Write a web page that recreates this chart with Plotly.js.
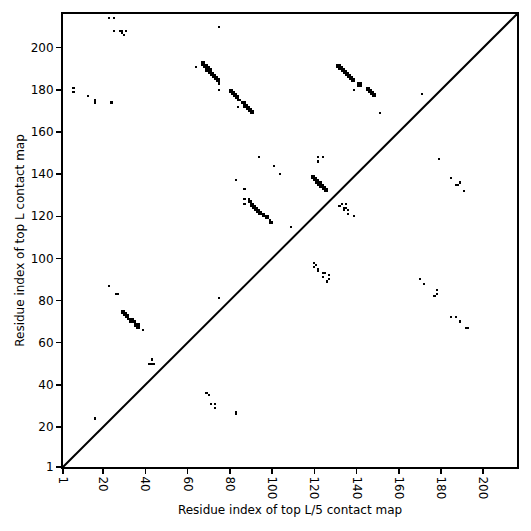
<!DOCTYPE html>
<html>
<head>
<meta charset="utf-8">
<script src="https://cdn.plot.ly/plotly-3.0.1.min.js"></script>
<style>html,body{margin:0;padding:0;background:#fff;}#plot{width:531px;height:531px;}</style>
</head>
<body>
<div id="plot"></div>
<script>
// Sequence length (axis extent)
const seqLength = 216;
const tickValues = [1, 20, 40, 60, 80, 100, 120, 140, 160, 180, 200];
const tickLabels = ["1", "20", "40", "60", "80", "100", "120", "140", "160", "180", "200"];

// ---- Top L contacts (upper-left triangle): residue i (x), residue j (y) ----
const topLScatter_i = [23, 25, 25, 28, 29, 31, 29, 30, 75, 64, 75, 6, 6, 13, 16, 16, 24, 84, 139, 151, 171,
  94, 101, 104, 122, 124, 122, 83, 87, 87, 87, 109, 23, 26, 27, 75, 43, 42, 43, 44, 16];
const topLScatter_j = [214, 214, 208, 208, 208, 208, 207, 206, 210, 191, 180, 181, 179, 177, 175, 174, 174, 172, 180, 169, 178,
  148, 144, 140, 148, 148, 146, 137, 133, 128, 126, 115, 87, 83, 83, 81, 52, 50, 50, 50, 24];

const band1_i = [67, 68, 67, 68, 69, 68, 69, 70, 69, 70, 71, 69, 70, 71, 70, 71, 72, 71, 72, 73, 72, 73, 74, 73, 74, 75, 74, 75, 75];
const band1_j = [193, 193, 192, 192, 192, 191, 191, 191, 190, 190, 190, 189, 189, 189, 188, 188, 188, 187, 187, 187, 186, 186, 186, 185, 185, 185, 184, 184, 183];

const band2_i = [80, 81, 80, 81, 82, 81, 82, 83, 82, 83, 84, 83, 84, 84, 85, 86, 87, 87, 88, 87, 88, 89, 88, 89, 90, 89, 90, 91, 90, 91];
const band2_j = [180, 180, 179, 179, 179, 178, 178, 178, 177, 177, 177, 176, 176, 175, 175, 174, 174, 173, 173, 172, 172, 172, 171, 171, 171, 170, 170, 170, 169, 169];

const band3_i = [131, 132, 131, 132, 133, 132, 133, 134, 133, 134, 135, 134, 135, 136, 135, 136, 137, 136, 137, 138, 137, 138, 139, 138, 139,
  141, 142, 141, 142, 145, 146, 145, 146, 147, 146, 147, 148, 147, 148, 149, 148, 149];
const band3_j = [192, 192, 191, 191, 191, 190, 190, 190, 189, 189, 189, 188, 188, 188, 187, 187, 187, 186, 186, 186, 185, 185, 185, 184, 184,
  183, 183, 182, 182, 181, 181, 180, 180, 180, 179, 179, 179, 178, 178, 178, 177, 177];

const band4_i = [119, 120, 119, 120, 121, 120, 121, 122, 121, 122, 123, 122, 123, 124, 123, 124, 125, 124, 125, 126, 125, 126];
const band4_j = [139, 139, 138, 138, 138, 137, 137, 137, 136, 136, 136, 135, 135, 135, 134, 134, 134, 133, 133, 133, 132, 132];

const band5_i = [29, 30, 29, 30, 31, 30, 31, 32, 31, 32, 32, 33, 34, 33, 34, 35, 35, 36, 37, 35, 36, 37, 36, 37, 39];
const band5_j = [75, 75, 74, 74, 74, 73, 73, 73, 72, 72, 71, 71, 71, 70, 70, 70, 69, 69, 69, 68, 68, 68, 67, 67, 66];

const band6_i = [89, 89, 90, 90, 91, 90, 91, 92, 91, 92, 93, 92, 93, 94, 93, 94, 95, 94, 95, 96, 96, 97, 98, 97, 98, 99, 99, 100];
const band6_j = [128, 127, 127, 126, 126, 125, 125, 125, 124, 124, 124, 123, 123, 123, 122, 122, 122, 121, 121, 121, 120, 120, 120, 119, 119, 118, 117, 117];

// ---- Top L/5 contacts (lower-right triangle): residue i (x), residue j (y) ----
const topL5_i = [
  69, 70, 71, 73, 73, 83, 83,
  120, 121, 120, 122, 122, 124, 125, 127, 124, 127, 126,
  133, 135, 132, 134, 135, 134, 136, 136, 139,
  179, 185, 187, 188, 189, 191,
  170, 172, 178, 178, 177,
  185, 187, 189, 192, 193
];
const topL5_j = [
  36, 35, 31, 31, 29, 27, 26,
  98, 97, 96, 95, 94, 93, 93, 92, 91, 90, 89,
  126, 126, 125, 124, 124, 123, 123, 121, 120,
  147, 138, 135, 135, 136, 132,
  90, 88, 85, 83, 82,
  72, 72, 70, 67, 67
];

const topL_i = [].concat(topLScatter_i, band1_i, band2_i, band3_i, band4_i, band5_i, band6_i);
const topL_j = [].concat(topLScatter_j, band1_j, band2_j, band3_j, band4_j, band5_j, band6_j);

// Build the contact grid for the heatmap
const z = [];
for (let r = 0; r < seqLength; r++) { z.push(new Array(seqLength).fill(null)); }
function mark(iArr, jArr) {
  for (let k = 0; k < iArr.length; k++) { z[jArr[k] - 1][iArr[k] - 1] = 1; }
}
mark(topL_i, topL_j);
mark(topL5_i, topL5_j);

const traces = [
  {
    type: 'heatmap', z: z, x0: 1, dx: 1, y0: 1, dy: 1,
    colorscale: [[0, '#000000'], [1, '#000000']], showscale: false,
    zsmooth: false, hoverinfo: 'skip'
  },
  {
    type: 'scatter', mode: 'lines', x: [1, seqLength], y: [1, seqLength],
    line: {color: '#000000', width: 2}, hoverinfo: 'skip', showlegend: false
  }
];

const axisCommon = {
  range: [1, seqLength], tickmode: 'array', tickvals: tickValues, ticktext: tickLabels,
  ticks: 'outside', ticklen: 5, tickwidth: 1.5, tickcolor: '#000',
  showline: true, mirror: true, linewidth: 2, linecolor: '#000',
  showgrid: false, zeroline: false,
  tickfont: {family: 'DejaVu Sans', size: 12, color: '#000'}
};

const layout = {
  width: 531, height: 531,
  margin: {l: 63, r: 14, t: 14, b: 64},
  paper_bgcolor: '#fff', plot_bgcolor: '#fff',
  showlegend: false,
  font: {family: 'DejaVu Sans', size: 12, color: '#000'},
  xaxis: Object.assign({}, axisCommon, {
    tickangle: 90,
    title: {text: 'Residue index of top L/5 contact map', font: {family: 'DejaVu Sans', size: 12, color: '#000'}, standoff: 7}
  }),
  yaxis: Object.assign({}, axisCommon, {
    title: {text: 'Residue index of top L contact map', font: {family: 'DejaVu Sans', size: 12, color: '#000'}, standoff: 3}
  })
};

Plotly.newPlot('plot', traces, layout, {staticPlot: true, displayModeBar: false});
</script>
</body>
</html>
